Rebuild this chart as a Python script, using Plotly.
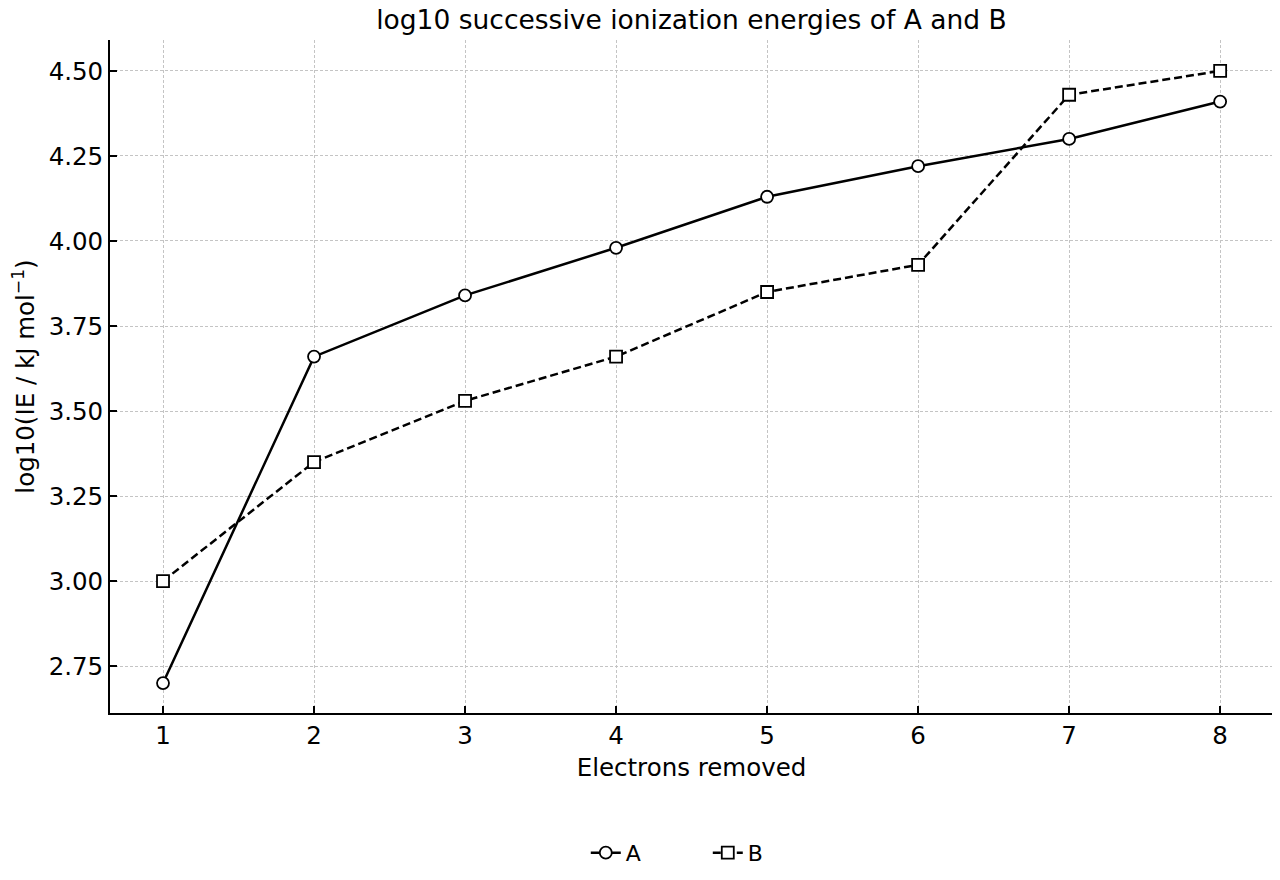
import plotly.graph_objects as go

electrons = [1, 2, 3, 4, 5, 6, 7, 8]
log_ie_a = [2.70, 3.66, 3.84, 3.98, 4.13, 4.22, 4.30, 4.41]
log_ie_b = [3.00, 3.35, 3.53, 3.66, 3.85, 3.93, 4.43, 4.50]
y_ticks = [2.75, 3.00, 3.25, 3.50, 3.75, 4.00, 4.25, 4.50]

font = "DejaVu Sans"

fig = go.Figure()
fig.add_trace(go.Scatter(
    x=electrons, y=log_ie_a, name="A", mode="lines+markers",
    line=dict(color="black", width=2.5),
    marker=dict(symbol="circle", size=12, color="white", line=dict(color="black", width=1.8)),
))
fig.add_trace(go.Scatter(
    x=electrons, y=log_ie_b, name="B", mode="lines+markers",
    line=dict(color="black", width=2.5, dash="8px,4px"),
    marker=dict(symbol="square", size=12, color="white", line=dict(color="black", width=1.8)),
))

axis_common = dict(
    showline=True, linecolor="black", linewidth=1.8, mirror=False,
    ticks="inside", ticklen=7, tickwidth=1.5, tickcolor="black",
    showgrid=True, gridcolor="#c4c4c4", gridwidth=1, griddash="3px,2px",
    zeroline=False, tickfont=dict(family=font, size=24.5, color="black"),
)

# page body has an 8px margin, so the figure is shifted by 8px
fig.update_xaxes(
    range=[0.649, 8.35], tickvals=electrons,
    title=dict(text="Electrons removed", font=dict(family=font, size=24.5, color="black"), standoff=10),
    **axis_common,
)
fig.update_yaxes(
    range=[2.612, 4.591], tickvals=y_ticks, ticktext=[f"{v:.2f}" for v in y_ticks],
    title=dict(text="log10(IE / kJ mol<sup>−1</sup>)", font=dict(family=font, size=24.5, color="black"), standoff=17),
    **axis_common,
)

fig.update_layout(
    width=1272, height=872,
    margin=dict(l=102, r=7, t=32, b=166),
    paper_bgcolor="white", plot_bgcolor="white",
    font=dict(family=font, color="black"),
    title=dict(text="log10 successive ionization energies of A and B",
               font=dict(family=font, size=26.5, color="black"),
               x=0.5, xref="paper", y=0.997, yref="container", yanchor="top",
               pad=dict(t=0, b=0)),
    legend=dict(orientation="h", x=0.514, xanchor="center", y=-0.206, yanchor="middle",
                font=dict(family=font, size=22, color="black"),
                entrywidth=77, entrywidthmode="pixels", tracegroupgap=0),
    showlegend=True,
)

fig.write_html("out.html")
